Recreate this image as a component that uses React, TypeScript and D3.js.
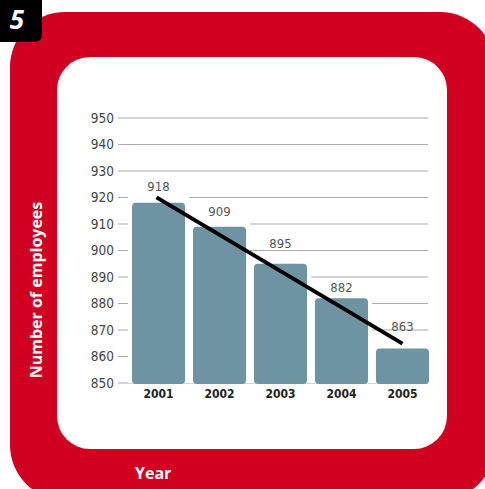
import * as d3 from 'd3';

// values
const years = ['2001', '2002', '2003', '2004', '2005'];
const employees = [918, 909, 895, 882, 863];
const yTicks = [850, 860, 870, 880, 890, 900, 910, 920, 930, 940, 950];

const W = 485;
const H = 489;
const RED = '#d20020';
const BAR = '#6e94a3';
const FONT = '"DejaVu Sans", sans-serif';
const TITLE_FONT = '"Open Sans", sans-serif';
// the printed value labels don't sit at a fixed distance above the bars
const LABEL_LIFT = [16, 15, 20, 11, 22];

// least-squares trend over the bars
function trend(vals: number[]) {
  const n = vals.length;
  const xm = (n - 1) / 2;
  const ym = d3.mean(vals) as number;
  let num = 0;
  let den = 0;
  vals.forEach((v, i) => {
    num += (i - xm) * (v - ym);
    den += (i - xm) * (i - xm);
  });
  const slope = num / den;
  return (i: number) => ym + slope * (i - xm);
}

function roundedTop(x0: number, y0: number, w: number, h: number, r: number) {
  const p = d3.path();
  p.moveTo(x0, y0 + h - r);
  p.lineTo(x0, y0 + r);
  p.quadraticCurveTo(x0, y0, x0 + r, y0);
  p.lineTo(x0 + w - r, y0);
  p.quadraticCurveTo(x0 + w, y0, x0 + w, y0 + r);
  p.lineTo(x0 + w, y0 + h - r);
  p.quadraticCurveTo(x0 + w, y0 + h, x0 + w - r, y0 + h);
  p.lineTo(x0 + r, y0 + h);
  p.quadraticCurveTo(x0, y0 + h, x0, y0 + h - r);
  p.closePath();
  return p.toString();
}

export default function App() {
  const x = d3.scaleBand().domain(years).range([132, 429]).paddingInner(0.13).paddingOuter(0);
  const y = d3.scaleLinear().domain([850, 950]).range([383, 118]);
  const bw = x.bandwidth();
  const fit = trend(employees);
  const cx = (yr: string) => (x(yr) as number) + bw / 2;

  return (
    <svg
      width={W}
      height={H}
      style={{ position: 'absolute', left: 0, top: 0, display: 'block', background: '#fff' }}
    >
      <rect x={10} y={12} width={485} height={488} rx={55} fill={RED} />
      <rect x={57} y={57} width={390} height={392} rx={33} fill="#fff" />

      {/* corner number tab */}
      <path d="M0,0 H42 V34 Q42,42 34,42 H0 Z" fill="#000" />
      <text x={24} y={29} textAnchor="end" fill="#fff" fontFamily={TITLE_FONT} fontWeight="bold" fontStyle="italic" fontSize={26}>
        5
      </text>

      {/* gridlines + tick labels */}
      {yTicks.map((t) => (
        <g key={t}>
          <line x1={118} x2={428} y1={y(t)} y2={y(t)} stroke="#aaa" strokeWidth={1} />
          <text
            x={114}
            y={y(t)}
            dy="0.35em"
            textAnchor="end"
            fill="#444"
            fontFamily={FONT}
            fontStretch="condensed"
            fontSize={13.5}
          >
            {t}
          </text>
        </g>
      ))}

      {/* white columns hide the grid behind each bar */}
      {years.map((yr, i) => (
        <rect
          key={'bg' + yr}
          x={(x(yr) as number) - 4}
          y={y(employees[i]) - 7}
          width={bw + 8}
          height={y(850) - y(employees[i]) + 7}
          fill="#fff"
        />
      ))}

      {years.map((yr, i) => (
        <g key={yr}>
          <path d={roundedTop(x(yr) as number, y(employees[i]), bw, y(850) - y(employees[i]) + 1, 4)} fill={BAR} />
          <text
            x={cx(yr)}
            y={y(employees[i]) - LABEL_LIFT[i]}
            dy="0.35em"
            textAnchor="middle"
            fill="#555"
            fontFamily={FONT}
            fontStretch="condensed"
            fontSize={13}
          >
            {employees[i]}
          </text>
          <text
            x={cx(yr)}
            y={394}
            dy="0.35em"
            textAnchor="middle"
            fill="#222"
            fontFamily={FONT}
            fontStretch="condensed"
            fontWeight="bold"
            fontSize={12}
          >
            {yr}
          </text>
        </g>
      ))}

      <line
        x1={cx(years[0]) - 2}
        y1={y(fit(0)) + 2}
        x2={cx(years[years.length - 1])}
        y2={y(fit(years.length - 1)) + 3}
        stroke="#000"
        strokeWidth={4}
      />

      <text
        transform="translate(36,290) rotate(-90)"
        textAnchor="middle"
        dy="0.35em"
        fill="#fff"
        fontFamily={TITLE_FONT}
        fontWeight="bold"
        fontSize={16}
      >
        Number of employees
      </text>
      <text x={135} y={473} dy="0.35em" fill="#fff" fontFamily={TITLE_FONT} fontWeight="bold" fontSize={16}>
        Year
      </text>
    </svg>
  );
}
